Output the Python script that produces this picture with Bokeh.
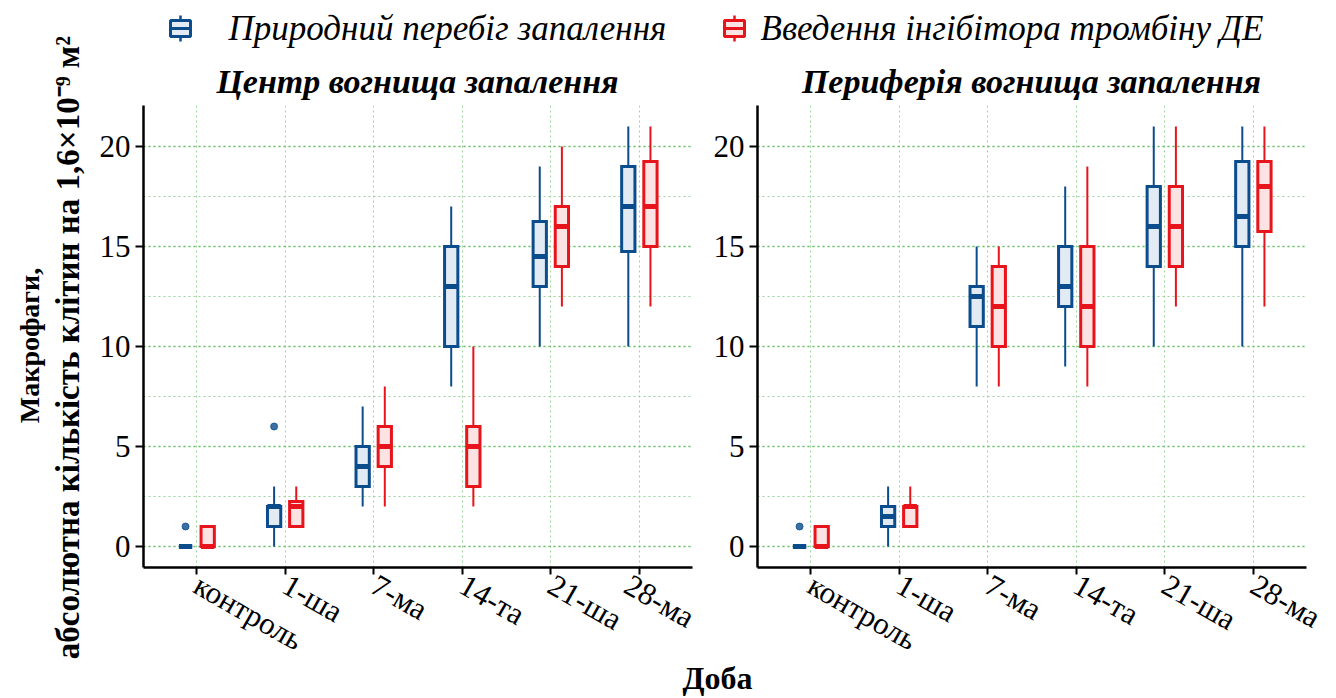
import math
from bokeh.plotting import figure
from bokeh.models import ColumnDataSource, FixedTicker, SingleIntervalTicker, Range1d
from bokeh.layouts import row, column
from bokeh.core.properties import value
from bokeh.embed import file_html
from bokeh.resources import INLINE

SERIF = "Liberation Serif"

days = ["контроль", "1-ша", "7-ма", "14-та", "21-ша", "28-ма"]
groups = ["Природний перебіг запалення", "Введення інгібітора тромбіну ДЕ"]
panel_titles = ["Центр вогнища запалення", "Периферія вогнища запалення"]
y_label_1 = "Макрофаги,"
y_label_2 = "абсолютна кількість клітин на 1,6×10⁻⁹ м²"
x_label = "Доба"

# Центр вогнища — природний перебіг: мінімум, Q1, медіана, Q3, максимум
centre_nat_low = [0, 0, 2, 8, 10, 10]
centre_nat_q1 = [0, 1, 3, 10, 13, 14.75]
centre_nat_med = [0, 2, 4, 13, 14.5, 17]
centre_nat_q3 = [0, 2, 5, 15, 16.25, 19]
centre_nat_high = [0, 3, 7, 17, 19, 21]
centre_nat_out_day = ["контроль", "1-ша"]
centre_nat_out_val = [1, 6]

# Центр вогнища — інгібітор тромбіну
centre_inh_low = [0, 1, 2, 2, 12, 12]
centre_inh_q1 = [0, 1, 4, 3, 14, 15]
centre_inh_med = [0, 2, 5, 5, 16, 17]
centre_inh_q3 = [1, 2.25, 6, 6, 17, 19.25]
centre_inh_high = [1, 3, 8, 10, 20, 21]
centre_inh_out_day = []
centre_inh_out_val = []

# Периферія — природний перебіг
periph_nat_low = [0, 0, 8, 9, 10, 10]
periph_nat_q1 = [0, 1, 11, 12, 14, 15]
periph_nat_med = [0, 1.5, 12.5, 13, 16, 16.5]
periph_nat_q3 = [0, 2, 13, 15, 18, 19.25]
periph_nat_high = [0, 3, 15, 18, 21, 21]
periph_nat_out_day = ["контроль"]
periph_nat_out_val = [1]

# Периферія — інгібітор тромбіну
periph_inh_low = [0, 1, 8, 8, 12, 12]
periph_inh_q1 = [0, 1, 10, 10, 14, 15.75]
periph_inh_med = [0, 2, 12, 12, 16, 18]
periph_inh_q3 = [1, 2, 14, 15, 18, 19.25]
periph_inh_high = [1, 3, 15, 19, 21, 21]
periph_inh_out_day = []
periph_inh_out_val = []

BLUE = "#0b4c8c"
BLUE_FILL = "#e2eaf3"
RED = "#e8141c"
RED_FILL = "#fbe3e3"
GRID_MAJOR = "#6cc36c"
GRID_MINOR = "#9ad49a"

DODGE = 0.125
BOX_W = 0.15
FRAME_W = 549
FRAME_H = 462
HEAD_H = 105
BODY_H = 698 - HEAD_H


def add_boxes(p, low, q1, med, q3, high, out_day, out_val, shift, line, fill):
    xs = [i + 1 + shift for i in range(len(days))]
    src = ColumnDataSource(dict(
        x=xs, x0=[x - BOX_W / 2 for x in xs], x1=[x + BOX_W / 2 for x in xs],
        low=low, q1=q1, med=med, q3=q3, high=high))
    p.segment(x0="x", y0="low", x1="x", y1="q1", source=src, line_color=line, line_width=2)
    p.segment(x0="x", y0="q3", x1="x", y1="high", source=src, line_color=line, line_width=2)
    p.vbar(x="x", width=BOX_W, bottom="q1", top="q3", source=src,
           fill_color=fill, line_color=line, line_width=3, line_join="miter")
    p.segment(x0="x0", y0="med", x1="x1", y1="med", source=src, line_color=line, line_width=5)
    if out_day:
        ox = [days.index(d) + 1 + shift for d in out_day]
        p.scatter(x=ox, y=out_val, size=7, fill_color=line, line_color=line,
                  fill_alpha=0.8, line_alpha=0.8)


def panel(left, right, nat, inh):
    p = figure(frame_width=FRAME_W, frame_height=FRAME_H,
               x_range=Range1d(0.4, 6.6), y_range=Range1d(-1.05, 22.05),
               output_backend="svg", toolbar_location=None,
               min_border_left=left, min_border_right=right, min_border_top=0, min_border_bottom=0)
    p.outline_line_color = None
    p.background_fill_color = "white"
    p.border_fill_alpha = 0

    p.xaxis.ticker = FixedTicker(ticks=list(range(1, len(days) + 1)))
    p.xaxis.major_label_overrides = {i + 1: d for i, d in enumerate(days)}
    p.xaxis.major_label_orientation = -0.52
    p.yaxis.ticker = SingleIntervalTicker(interval=5, num_minor_ticks=2)
    for ax in (p.xaxis, p.yaxis):
        ax.axis_line_width = 2.5
        ax.axis_line_color = "black"
        ax.major_tick_line_width = 2
        ax.major_tick_line_color = "black"
        ax.major_tick_in = 0
        ax.minor_tick_line_color = None
        ax.major_label_text_font = SERIF
        ax.major_label_text_font_size = "31px"
        ax.major_label_text_color = "black"
    p.yaxis.major_tick_out = 8
    p.xaxis.major_tick_out = 7
    p.yaxis.major_label_standoff = 5
    p.xaxis.major_label_standoff = 8

    p.ygrid.grid_line_color = GRID_MAJOR
    p.ygrid.grid_line_width = 1.3
    p.ygrid.grid_line_dash = "2 3"
    p.ygrid.minor_grid_line_color = GRID_MINOR
    p.ygrid.minor_grid_line_width = 1
    p.ygrid.minor_grid_line_dash = "2 3"
    p.xgrid.ticker = FixedTicker(ticks=list(range(1, len(days) + 1)))
    p.xgrid.grid_line_color = GRID_MINOR
    p.xgrid.grid_line_width = 1
    p.xgrid.grid_line_dash = "2 3"

    add_boxes(p, *nat, -DODGE, BLUE, BLUE_FILL)
    add_boxes(p, *inh, DODGE, RED, RED_FILL)
    return p


p1 = panel(58, 8,
           (centre_nat_low, centre_nat_q1, centre_nat_med, centre_nat_q3, centre_nat_high,
            centre_nat_out_day, centre_nat_out_val),
           (centre_inh_low, centre_inh_q1, centre_inh_med, centre_inh_q3, centre_inh_high,
            centre_inh_out_day, centre_inh_out_val))
p2 = panel(57, 30,
           (periph_nat_low, periph_nat_q1, periph_nat_med, periph_nat_q3, periph_nat_high,
            periph_nat_out_day, periph_nat_out_val),
           (periph_inh_low, periph_inh_q1, periph_inh_med, periph_inh_q3, periph_inh_high,
            periph_inh_out_day, periph_inh_out_val))


def blank(width, height, **kw):
    f = figure(width=width, height=height, x_range=Range1d(0, width), y_range=Range1d(0, height),
               x_axis_type=None, y_axis_type=None, output_backend="svg", toolbar_location=None,
               min_border=0, **kw)
    f.outline_line_color = None
    f.grid.visible = False
    return f


# header strip: legend and panel titles
head = blank(1251, HEAD_H)
key_x = [95, 649]
key_y = 77
key_colors = [(BLUE, BLUE_FILL), (RED, RED_FILL)]
for kx, (lc, fc) in zip(key_x, key_colors):
    head.segment(x0=[kx, kx], y0=[key_y + 8, key_y - 8], x1=[kx, kx], y1=[key_y + 13, key_y - 13],
                 line_color=lc, line_width=2.5)
    head.rect(x=[kx], y=[key_y], width=20, height=16, fill_color=fc, line_color=lc, line_width=3)
    head.segment(x0=[kx - 10], y0=[key_y], x1=[kx + 10], y1=[key_y], line_color=lc, line_width=3)
head.text(x=[143, 675], y=[key_y, key_y], text=groups, text_font=value(SERIF),
          text_font_style="italic", text_font_size="35px", text_color="black",
          text_align="left", text_baseline="middle")
head.text(x=[332, 946], y=[24, 24], text=panel_titles, text_font=value(SERIF),
          text_font_style="bold italic", text_font_size="34px", text_color="black",
          text_align="center", text_baseline="middle")

# y-axis title
ylab = blank(85, 698)
ylab.text(x=[29], y=[353], text=[y_label_1], angle=math.pi / 2,
          text_font=value(SERIF), text_font_style="bold", text_font_size="28px",
          text_color="black", text_align="center", text_baseline="middle")
ylab.text(x=[67], y=[351], text=[y_label_2], angle=math.pi / 2,
          text_font=value(SERIF), text_font_style="bold", text_font_size="33px",
          text_color="black", text_align="center", text_baseline="middle")

# x-axis title: a transparent layer laid over the panels' lower margin
xlab = blank(1251, BODY_H, margin=(0, 0, -BODY_H, 0))
xlab.background_fill_alpha = 0
xlab.border_fill_alpha = 0
xlab.text(x=[632], y=[21], text=[x_label], text_font=value(SERIF), text_font_style="bold",
          text_font_size="32px", text_color="black", text_align="center",
          text_baseline="alphabetic")

layout = row(ylab, column(head, xlab, row(p1, p2)))
open("out.html", "w").write(file_html(layout, INLINE))
